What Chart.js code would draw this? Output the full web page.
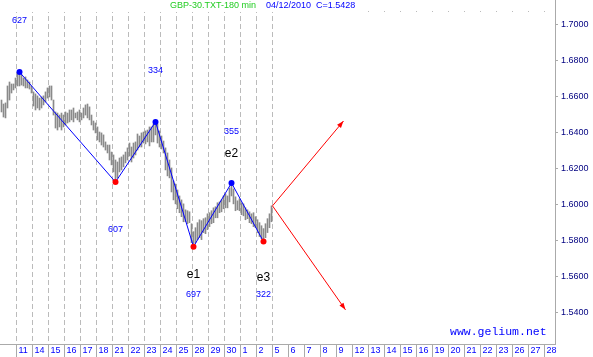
<!DOCTYPE html>
<html>
<head>
<meta charset="utf-8">
<script src="https://cdn.jsdelivr.net/npm/chart.js@4/dist/chart.umd.min.js"></script>
<style>
  body { margin: 0; background: #ffffff; }
  canvas { display: block; }
</style>
</head>
<body>
<canvas id="chart" width="593" height="357"></canvas>
<script>
// Jours sous l'axe (8 barres de 180 min par jour)
const dayLabels = ['11','14','15','16','17','18','21','22','23','24','25','28','29','30','1','2','5',
                   '6','7','8','9','12','13','14','15','16','19','20','21','22','23','26','27','28'];
const priceTicks = [1.54, 1.56, 1.58, 1.60, 1.62, 1.64, 1.66, 1.68, 1.70];

// Plus hauts / plus bas des barres
const barHigh = [
  1.6579,1.6557,1.6563,1.6657,1.6679,1.6668,1.6668,1.6701,
  1.6723,1.6734,1.6718,1.6701,1.6707,1.6690,1.6679,1.6657,
  1.6624,1.6613,1.6602,1.6590,1.6596,1.6602,1.6624,1.6646,
  1.6657,1.6657,1.6579,1.6513,1.6507,1.6496,1.6507,1.6496,
  1.6513,1.6507,1.6524,1.6524,1.6535,1.6507,1.6513,1.6524,
  1.6507,1.6535,1.6552,1.6557,1.6541,1.6496,1.6463,1.6452,
  1.6430,1.6402,1.6397,1.6386,1.6347,1.6330,1.6330,1.6291,
  1.6275,1.6247,1.6236,1.6258,1.6264,1.6275,1.6291,1.6314,
  1.6341,1.6319,1.6341,1.6347,1.6391,1.6380,1.6397,1.6402,
  1.6408,1.6413,1.6430,1.6430,1.6446,1.6458,1.6446,1.6408,
  1.6380,1.6352,1.6314,1.6286,1.6247,1.6203,1.6131,1.6114,
  1.6081,1.6048,1.6026,1.6004,1.5971,1.5966,1.5960,1.5894,
  1.5850,1.5872,1.5900,1.5916,1.5911,1.5922,1.5927,1.5949,
  1.5955,1.5966,1.5982,1.5988,1.6010,1.6015,1.6026,1.6048,
  1.6059,1.6048,1.6092,1.6120,1.6087,1.6043,1.6021,1.6032,
  1.6010,1.6004,1.5982,1.5971,1.5960,1.5949,1.5955,1.5933,
  1.5916,1.5900,1.5883,1.5867,1.5894,1.5922,1.5949,1.5993
];
const barLow = [
  1.6513,1.6485,1.6480,1.6535,1.6579,1.6618,1.6635,1.6646,
  1.6657,1.6657,1.6662,1.6657,1.6646,1.6646,1.6640,1.6618,
  1.6546,1.6524,1.6535,1.6524,1.6535,1.6552,1.6568,1.6590,
  1.6596,1.6579,1.6496,1.6424,1.6413,1.6430,1.6413,1.6430,
  1.6441,1.6452,1.6458,1.6469,1.6458,1.6480,1.6469,1.6458,
  1.6469,1.6480,1.6496,1.6480,1.6469,1.6441,1.6413,1.6397,
  1.6358,1.6347,1.6330,1.6319,1.6302,1.6286,1.6247,1.6220,
  1.6181,1.6125,1.6148,1.6181,1.6192,1.6209,1.6231,1.6247,
  1.6269,1.6236,1.6258,1.6275,1.6302,1.6319,1.6319,1.6341,
  1.6336,1.6347,1.6325,1.6347,1.6347,1.6386,1.6341,1.6319,
  1.6308,1.6286,1.6192,1.6159,1.6148,1.6070,1.6026,1.6004,
  1.5977,1.5955,1.5933,1.5905,1.5905,1.5894,1.5900,1.5789,
  1.5767,1.5789,1.5806,1.5817,1.5806,1.5845,1.5839,1.5861,
  1.5878,1.5894,1.5900,1.5927,1.5927,1.5955,1.5960,1.5977,
  1.5982,1.5982,1.6015,1.6048,1.6004,1.5966,1.5971,1.5966,
  1.5944,1.5938,1.5916,1.5922,1.5900,1.5894,1.5878,1.5872,
  1.5845,1.5823,1.5812,1.5795,1.5817,1.5845,1.5872,1.5905
];

// Pivots du zigzag (indice de barre, prix)
const pivotX = [9, 57, 77, 96, 115, 131];
const pivotY = [1.6734, 1.6125, 1.6458, 1.5767, 1.6120, 1.5795];
const pivotColor = ['#0000ff', '#ff0000', '#0000ff', '#ff0000', '#0000ff', '#ff0000'];

// Projections : origine, cible haute, cible basse
const arrowX = [135.5, 171, 172];
const arrowY = [1.5993, 1.6463, 1.5417];

// Annotations
const noteText = ['627', '334', '355', 'e2', '607', 'e1', '697', 'e3', '322'];
const noteX = [9, 77, 115, 115, 57, 96, 96, 131, 131];
const noteY = [1.7019, 1.6745, 1.6402, 1.6280, 1.5860, 1.5610, 1.5502, 1.5596, 1.5502];

Chart.defaults.font.family = '"Liberation Sans", Arial, sans-serif';

// Suppression des marges ajoutées par Chart.js autour des axes
function noPadding(s) {
    s.paddingLeft = 0;
    s.paddingRight = 0;
    s.paddingTop = 0;
    s.paddingBottom = 0;
}

// Dessin des flèches, des textes et de l'entête
const overlay = {
    id: 'overlay',
    beforeDatasetsDraw(chart) {
        // la grille commence sous l'entête
        const {ctx, chartArea} = chart;
        ctx.save();
        ctx.fillStyle = '#ffffff';
        ctx.fillRect(chartArea.left, chartArea.top, chartArea.right - chartArea.left - 1, 12);
        ctx.restore();
    },
    afterDatasetsDraw(chart) {
        const {ctx, scales: {x, y}} = chart;
        ctx.save();

        // pointes des flèches rouges
        const x0 = x.getPixelForValue(arrowX[0]);
        const y0 = y.getPixelForValue(arrowY[0]);
        for (let i = 1; i < arrowX.length; i++) {
            const x1 = x.getPixelForValue(arrowX[i]);
            const y1 = y.getPixelForValue(arrowY[i]);
            const a = Math.atan2(y1 - y0, x1 - x0);
            ctx.fillStyle = '#ff0000';
            ctx.beginPath();
            ctx.moveTo(x1, y1);
            ctx.lineTo(x1 - 7 * Math.cos(a) + 2.5 * Math.sin(a), y1 - 7 * Math.sin(a) - 2.5 * Math.cos(a));
            ctx.lineTo(x1 - 7 * Math.cos(a) - 2.5 * Math.sin(a), y1 - 7 * Math.sin(a) + 2.5 * Math.cos(a));
            ctx.closePath();
            ctx.fill();
        }

        // étiquettes des vagues
        ctx.textAlign = 'center';
        ctx.textBaseline = 'middle';
        noteText.forEach((t, i) => {
            const big = t.startsWith('e');
            ctx.font = big ? '12px "Liberation Sans"' : '9px "Liberation Sans"';
            ctx.fillStyle = big ? '#000000' : '#0000ff';
            ctx.fillText(t, x.getPixelForValue(noteX[i]), y.getPixelForValue(noteY[i]));
        });

        // entête
        ctx.textAlign = 'left';
        ctx.font = '9px "Liberation Sans"';
        ctx.fillStyle = '#22cc22';
        ctx.fillText('GBP-30.TXT-180 min', 170, 6);
        ctx.fillStyle = '#0000ff';
        ctx.fillText('04/12/2010  C=1.5428', 266, 6);

        // filigrane
        ctx.font = '11.5px "Liberation Mono"';
        ctx.fillText('www.gelium.net', 450, 332);

        // petits points en haut des jours futurs
        ctx.fillStyle = '#bbbbbb';
        for (let k = 22; k < dayLabels.length; k++) {
            ctx.fillRect(Math.floor(x.getPixelForValue(7.5 + 8 * k)), 11, 1, 1);
        }
        ctx.restore();
    }
};

const ctx = document.getElementById('chart');

const chart = new Chart(ctx, {
    type: 'bar',
    data: {
        datasets: [{
            type: 'line',
            data: pivotX.map((v, i) => ({x: v, y: pivotY[i]})),
            borderColor: '#0000ff',
            borderWidth: 1,
            pointRadius: 3,
            pointBorderWidth: 0,
            pointBackgroundColor: pivotColor,
            tension: 0,
            order: 0
        }, {
            type: 'line',
            data: [{x: arrowX[0], y: arrowY[0]}, {x: arrowX[1], y: arrowY[1]}],
            borderColor: '#ff0000',
            borderWidth: 1,
            pointRadius: 0,
            order: 1
        }, {
            type: 'line',
            data: [{x: arrowX[0], y: arrowY[0]}, {x: arrowX[2], y: arrowY[2]}],
            borderColor: '#ff0000',
            borderWidth: 1,
            pointRadius: 0,
            order: 1
        }, {
            type: 'bar',
            data: barHigh.map((h, i) => ({x: i, y: [barLow[i], h]})),
            backgroundColor: '#8a8a8a',
            borderWidth: 0,
            barThickness: 1,
            grouped: false,
            order: 10
        }]
    },
    options: {
        responsive: false,
        animation: false,
        devicePixelRatio: 1,
        layout: { padding: 0, autoPadding: false },
        plugins: {
            legend: { display: false },
            tooltip: { enabled: false }
        },
        scales: {
            x: {
                type: 'linear',
                min: -0.75,
                max: 276.75,
                offset: false,
                afterBuildTicks: s => { s.ticks = dayLabels.map((d, k) => ({value: 7.5 + 8 * k})); },
                afterFit: s => { s.height = 13; noPadding(s); },
                ticks: {
                    autoSkip: false,
                    maxRotation: 0,
                    align: 'start',
                    labelOffset: 2,
                    padding: -12,
                    color: '#0000ff',
                    font: { size: 9 },
                    callback: (v, i) => dayLabels[i]
                },
                grid: {
                    offset: false,
                    color: c => c.index <= 16 ? '#bbbbbb' : 'rgba(0,0,0,0)',
                    tickColor: '#aaaaaa',
                    tickLength: 13
                },
                border: { color: '#aaaaaa', dash: [5, 3] }
            },
            y: {
                position: 'right',
                min: 1.5228,
                max: 1.7133,
                afterBuildTicks: s => { s.ticks = priceTicks.map(v => ({value: v})); },
                afterFit: s => { s.width = 38; noPadding(s); },
                ticks: {
                    color: '#000080',
                    font: { size: 9 },
                    padding: 3,
                    callback: v => v.toFixed(4)
                },
                grid: { drawOnChartArea: false, tickLength: 3, tickColor: '#aaaaaa' },
                border: { color: '#aaaaaa' }
            }
        }
    },
    plugins: [overlay]
});
</script>
</body>
</html>
